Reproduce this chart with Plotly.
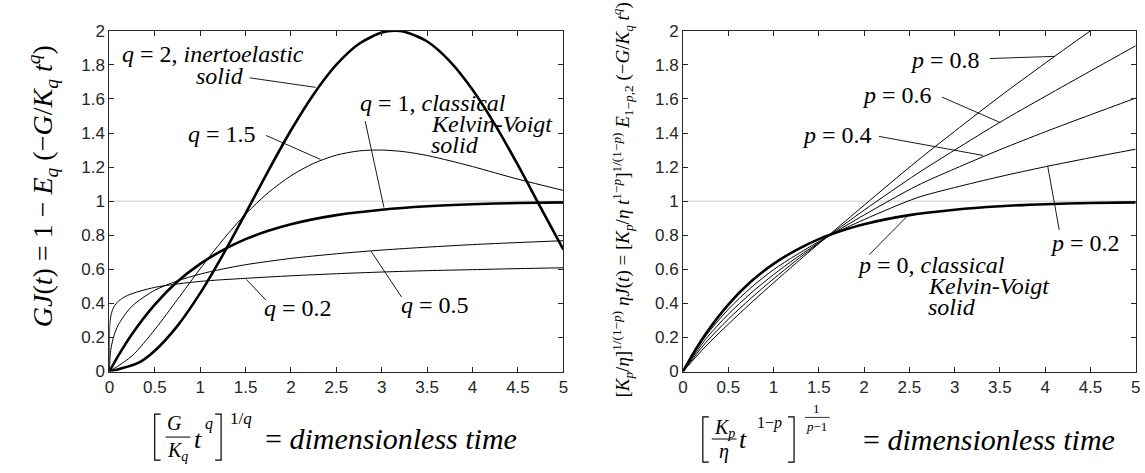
import plotly.graph_objects as go

# ---------------- data ----------------
# Left panel: GJ(t) for several q
X_Q2 = [0, 0.33, 0.5, 0.75, 1, 1.25, 1.5, 1.75, 2, 2.25, 2.5, 2.75, 3, 3.14, 3.25, 3.5, 3.75, 4, 4.25, 4.5, 4.75, 5]
GJ_Q2 = [0, 0.054, 0.122, 0.268, 0.460, 0.685, 0.929, 1.178, 1.416, 1.628, 1.801, 1.924, 1.990, 2.000, 1.994, 1.937, 1.821, 1.654, 1.446, 1.211, 0.962, 0.716]

X_Q15 = [0, 0.25, 0.5, 0.75, 1, 1.25, 1.5, 1.75, 2, 2.25, 2.5, 2.75, 3, 3.25, 3.5, 3.75, 4, 4.5, 5]
GJ_Q15 = [0, 0.092, 0.246, 0.423, 0.603, 0.773, 0.924, 1.050, 1.149, 1.222, 1.270, 1.295, 1.300, 1.290, 1.268, 1.237, 1.203, 1.129, 1.063]

X_Q1 = [0, 0.1, 0.25, 0.5, 0.75, 1, 1.25, 1.5, 1.75, 2, 2.5, 3, 3.5, 4, 4.5, 5]
GJ_Q1 = [0, 0.095, 0.221, 0.393, 0.528, 0.632, 0.713, 0.777, 0.826, 0.865, 0.918, 0.950, 0.970, 0.982, 0.989, 0.993]

X_Q05 = [0, 0.01, 0.02, 0.05, 0.1, 0.25, 0.5, 0.75, 1, 1.25, 1.5, 2, 2.5, 3, 3.5, 4, 4.5, 5]
GJ_Q05 = [0, 0.104, 0.142, 0.210, 0.276, 0.384, 0.477, 0.532, 0.572, 0.602, 0.627, 0.664, 0.691, 0.713, 0.730, 0.745, 0.757, 0.768]

X_Q02 = [0, 0.005, 0.02, 0.05, 0.1, 0.2, 0.5, 1, 1.5, 2, 2.5, 3, 3.5, 4, 4.5, 5]
GJ_Q02 = [0, 0.277, 0.336, 0.380, 0.413, 0.447, 0.494, 0.529, 0.547, 0.562, 0.574, 0.584, 0.592, 0.598, 0.604, 0.609]

# Right panel: normalised creep compliance for several p
X_P0 = [0, 0.1, 0.25, 0.5, 0.75, 1, 1.25, 1.5, 1.75, 2, 2.5, 3, 3.5, 4, 4.5, 5]
J_P0 = [0, 0.095, 0.221, 0.393, 0.528, 0.632, 0.713, 0.777, 0.826, 0.865, 0.918, 0.950, 0.970, 0.982, 0.989, 0.993]

X_P = [0, 0.25, 0.5, 0.75, 1, 1.25, 1.6, 2, 2.585, 3, 3.5, 4, 4.5, 5]
J_P02 = [0, 0.208, 0.365, 0.492, 0.598, 0.684, 0.792, 0.892, 1.020, 1.080, 1.144, 1.202, 1.255, 1.305]
J_P04 = [0, 0.190, 0.336, 0.460, 0.569, 0.667, 0.791, 0.919, 1.091, 1.190, 1.302, 1.407, 1.507, 1.605]
J_P06 = [0, 0.169, 0.307, 0.430, 0.544, 0.652, 0.793, 0.947, 1.161, 1.300, 1.463, 1.615, 1.764, 1.912]
X_P08 = [0, 0.25, 0.5, 0.75, 1, 1.25, 1.6, 2, 2.585, 3, 3.5, 4, 4.5]
J_P08 = [0, 0.148, 0.278, 0.402, 0.521, 0.637, 0.796, 0.976, 1.236, 1.410, 1.615, 1.810, 2.000]

REF_X = [0, 5]
REF_Y = [1, 1]

X_TICKS = [0, 0.5, 1, 1.5, 2, 2.5, 3, 3.5, 4, 4.5, 5]
X_TICKTEXT = ["0", "0.5", "1", "1.5", "2", "2.5", "3", "3.5", "4", "4.5", "5"]
Y_TICKS = [0, 0.2, 0.4, 0.6, 0.8, 1, 1.2, 1.4, 1.6, 1.8, 2]
Y_TICKTEXT = ["0", "0.2", "0.4", "0.6", "0.8", "1", "1.2", "1.4", "1.6", "1.8", "2"]

# ---------------- figure ----------------
W, H = 1145, 473
SERIF = "Liberation Serif"
SANS = "Liberation Sans"
AX = "#262626"
THICK, THIN = 2.6, 1.0


def px(x):
    return x / W


def py(y):
    return 1 - y / H


fig = go.Figure()


def curve(x, y, width, xa, ya, color="black"):
    fig.add_trace(go.Scatter(
        x=x, y=y, mode="lines", xaxis=xa, yaxis=ya, hoverinfo="skip", showlegend=False,
        line=dict(color=color, width=width, shape="spline", smoothing=0.8)))


# reference lines at 1
curve(REF_X, REF_Y, 1, "x", "y", "#c8c8c8")
curve(REF_X, REF_Y, 1, "x2", "y2", "#c8c8c8")

# left panel
curve(X_Q02, GJ_Q02, THIN, "x", "y")
curve(X_Q05, GJ_Q05, THIN, "x", "y")
curve(X_Q15, GJ_Q15, THIN, "x", "y")
curve(X_Q1, GJ_Q1, THICK, "x", "y")
curve(X_Q2, GJ_Q2, THICK, "x", "y")

# right panel
curve(X_P, J_P02, THIN, "x2", "y2")
curve(X_P, J_P04, THIN, "x2", "y2")
curve(X_P, J_P06, THIN, "x2", "y2")
curve(X_P08, J_P08, THIN, "x2", "y2")
curve(X_P0, J_P0, THICK, "x2", "y2")

axis_common = dict(
    showline=True, linecolor=AX, linewidth=1, mirror="ticks", ticks="inside",
    ticklen=5, tickwidth=1, tickcolor=AX, showgrid=False, zeroline=False,
    tickfont=dict(family=SANS, size=17, color=AX),
)
ydom = [py(377.7), py(22.7)]
fig.update_layout(
    width=W, height=H, margin=dict(l=0, r=0, t=0, b=0),
    paper_bgcolor="white", plot_bgcolor="white",
    xaxis=dict(domain=[px(105.3), px(563.3)], range=[0, 5], anchor="y",
               tickvals=X_TICKS, ticktext=X_TICKTEXT, **axis_common),
    yaxis=dict(domain=ydom, range=[0, 2], anchor="x",
               tickvals=Y_TICKS, ticktext=Y_TICKTEXT, **axis_common),
    xaxis2=dict(domain=[px(684), px(1140.7)], range=[0, 5], anchor="y2",
                tickvals=X_TICKS, ticktext=X_TICKTEXT, **axis_common),
    yaxis2=dict(domain=ydom, range=[0, 2], anchor="x2",
                tickvals=Y_TICKS, ticktext=Y_TICKTEXT, **axis_common),
)


def txt(x, y, s, size, xanchor="center", angle=0):
    fig.add_annotation(x=px(x), y=py(y), xref="paper", yref="paper", text=s,
                       showarrow=False, xanchor=xanchor, yanchor="middle",
                       textangle=angle, borderpad=0,
                       font=dict(family=SERIF, size=size, color="black"))


def seg(x0, y0, x1, y1, xref, yref, w=1.0):
    fig.add_shape(type="line", x0=x0, y0=y0, x1=x1, y1=y1, xref=xref, yref=yref,
                  line=dict(color="black", width=w))


def pseg(x0, y0, x1, y1, w=1.0):
    seg(px(x0), py(y0), px(x1), py(y1), "paper", "paper", w)


def bracket(xa, xb, y0, y1, w=1.2):
    # xa = vertical stroke position, xb = serif end
    fig.add_shape(type="path", xref="paper", yref="paper",
                  path=f"M {px(xb)},{py(y0)} L {px(xa)},{py(y0)} L {px(xa)},{py(y1)} L {px(xb)},{py(y1)}",
                  line=dict(color="black", width=w))


# ---- curve labels and leaders ----
LEFT_LEADERS = [((1.544, 1.724), (2.271, 1.668)), ((1.725, 1.386), (2.325, 1.245)),
                ((2.817, 1.470), (3.024, 0.963)), ((3.217, 0.438), (2.882, 0.706)),
                ((1.725, 0.419), (1.507, 0.541))]
RIGHT_LEADERS = [((3.388, 1.837), (4.100, 1.850)), ((2.859, 1.611), (3.505, 1.461)),
                 ((2.165, 1.380), (3.316, 1.268)), ((4.155, 0.832), (4.027, 1.208)),
                 ((2.056, 0.686), (2.475, 0.911))]
for (a, b) in LEFT_LEADERS:
    seg(a[0], a[1], b[0], b[1], "x", "y", 0.9)
for (a, b) in RIGHT_LEADERS:
    seg(a[0], a[1], b[0], b[1], "x2", "y2", 0.9)

LS = 24
txt(117, 47, "<i>q</i> = 2, <i>inertoelastic</i>", LS, "left")
txt(191.7, 70, "<i>solid</i>", LS, "left")
txt(183.3, 130, "<i>q</i> = 1.5", LS, "left")
txt(356.7, 98.3, "<i>q</i> = 1, <i>classical</i>", LS, "left")
txt(428.3, 120, "<i>Kelvin-Voigt</i>", LS, "left")
txt(428.3, 141.7, "<i>solid</i>", LS, "left")
txt(398.3, 308.3, "<i>q</i> = 0.5", LS, "left")
txt(260, 311.7, "<i>q</i> = 0.2", LS, "left")

txt(911.7, 53.3, "<i>p</i> = 0.8", LS, "left")
txt(863.3, 90, "<i>p</i> = 0.6", LS, "left")
txt(803.3, 131.7, "<i>p</i> = 0.4", LS, "left")
txt(1053.3, 243.3, "<i>p</i> = 0.2", LS, "left")
txt(858.3, 266.7, "<i>p</i> = 0, <i>classical</i>", LS, "left")
txt(930, 288.3, "<i>Kelvin-Voigt</i>", LS, "left")
txt(930, 310, "<i>solid</i>", LS, "left")

# ---- left x label ----
bracket(151, 157, 422, 470)
bracket(218, 212, 422, 470)
txt(170.5, 431, "<i>G</i>", 20)
pseg(162, 446, 187, 446)
txt(174, 461, "<i>K<sub>q</sub></i>", 20)
txt(195, 449, "<i>t</i>", 26)
txt(205.5, 432, "<i>q</i>", 16)
txt(238, 427, "1/<i>q</i>", 17)
txt(261.7, 447, "= <i>dimensionless time</i>", 30, "left")

# ---- right x label ----
bracket(704, 710, 425, 472)
bracket(796, 790, 425, 472)
txt(726, 437, "<i>K<sub>p</sub></i>", 20)
pseg(713, 448, 738, 448)
txt(725, 461, "<i>η</i>", 20)
txt(744, 449, "<i>t</i>", 26)
txt(771, 431, "1−<i>p</i>", 16)
txt(819, 416, "1", 13)
pseg(807, 425.5, 832, 425.5, 0.8)
txt(819, 435, "<i>p</i>−1", 13)
txt(865, 448, "= <i>dimensionless time</i>", 30, "left")

# ---- y labels ----
txt(38, 185, "<i>GJ</i>(<i>t</i>) = 1 − <i>E<sub>q</sub></i> (−<i>G</i>/<i>K<sub>q</sub></i> <i>t<sup>q</sup></i>)", 28, angle=-90)
txt(622, 199, "[<i>K<sub>p</sub></i>/<i>η</i>]<sup>1/(1−<i>p</i>)</sup> <i>ηJ</i>(<i>t</i>) = "
    "[<i>K<sub>p</sub></i>/<i>η</i> <i>t</i><sup>1−<i>p</i></sup>]<sup>1/(1−<i>p</i>)</sup> "
    "<i>E</i><sub>1−<i>p</i>,2</sub> (−<i>G</i>/<i>K<sub>q</sub></i> <i>t<sup>q</sup></i>)", 19, angle=-90)

fig.write_html("out.html")
